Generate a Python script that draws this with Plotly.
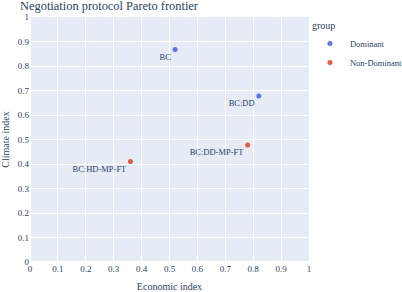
import plotly.graph_objects as go

groups = ["Dominant", "Non-Dominant"]
dom_labels = ["BC", "BC:DD"]
dom_econ = [0.52, 0.82]
dom_climate = [0.867, 0.678]
non_labels = ["BC:DD-MP-FT", "BC:HD-MP-FT"]
non_econ = [0.78, 0.36]
non_climate = [0.478, 0.41]
colors = ["#636efa", "#EF553B"]

fig = go.Figure()
for name, xs, ys, labels, c in [
    (groups[0], dom_econ, dom_climate, dom_labels, colors[0]),
    (groups[1], non_econ, non_climate, non_labels, colors[1]),
]:
    fig.add_trace(go.Scatter(
        x=xs, y=ys, text=labels, name=name, mode="markers+text",
        textposition="bottom left", marker=dict(color=c, size=5),
        textfont=dict(size=8.5),
    ))

fig.update_layout(
    width=402, height=292,
    margin=dict(l=30, r=93, t=17, b=30),
    font=dict(family="Liberation Serif", size=9, color="#2a3f5f"),
    title=dict(text="Negotiation protocol Pareto frontier", font=dict(size=12.4),
               x=0.05, y=0.979, yanchor="middle"),
    legend=dict(title=dict(text="group", font=dict(size=10)), font=dict(size=8.5),
                xref="container", yref="container", x=0.771, y=0.945,
                xanchor="left", yanchor="top"),
    xaxis=dict(title=dict(text="Economic index", font=dict(size=10)), range=[0, 1], dtick=0.1, automargin=False),
    yaxis=dict(title=dict(text="Climate index", font=dict(size=10)), range=[0, 1], dtick=0.1, automargin=False),
)
fig.write_html("out.html", config={"displayModeBar": False},
               post_script="document.body.style.margin='0';")
